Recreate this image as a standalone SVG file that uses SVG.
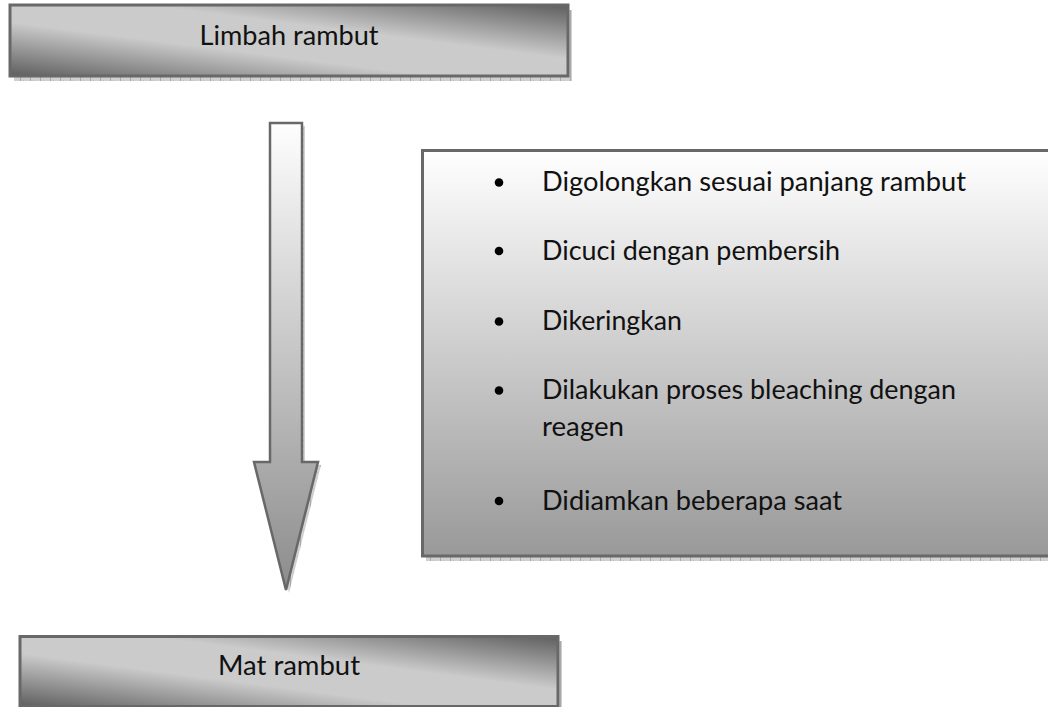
<svg xmlns="http://www.w3.org/2000/svg" width="1048" height="707" viewBox="0 0 1048 707">
  <defs>
    <style>
      .lbl { font-family: Lato, "Open Sans", "Liberation Sans", sans-serif; font-size: 26px; fill: #111; }
      .box { stroke: #686868; stroke-width: 3; }
      .shadow { fill: url(#shadowPat); }
      .bullet { fill: #000; }
    </style>
    <pattern id="shadowPat" width="10" height="6" patternUnits="userSpaceOnUse">
      <rect width="10" height="6" fill="#d0d0d0"/>
      <rect width="1" height="6" fill="#a8a8a8"/>
      <rect x="3" y="2" width="1" height="1" fill="#bdbdbd"/>
      <rect x="7" y="4" width="1" height="1" fill="#bdbdbd"/>
    </pattern>
    <linearGradient id="diagGrad" x1="1" y1="0" x2="0" y2="1">
      <stop offset="0" stop-color="#5e5e5e"/>
      <stop offset="0.38" stop-color="#cbcbcb"/>
      <stop offset="0.62" stop-color="#cbcbcb"/>
      <stop offset="1" stop-color="#5e5e5e"/>
    </linearGradient>
    <linearGradient id="vertGrad" x1="0" y1="0" x2="0" y2="1">
      <stop offset="0" stop-color="#ffffff"/>
      <stop offset="1" stop-color="#999999"/>
    </linearGradient>
    <linearGradient id="arrowGrad" x1="0" y1="0" x2="0" y2="1">
      <stop offset="0" stop-color="#fefefe"/>
      <stop offset="1" stop-color="#8c8c8c"/>
    </linearGradient>
  </defs>

  <rect width="1048" height="707" fill="#ffffff"/>

  <g id="node-limbah">
    <rect class="shadow" x="14" y="10" width="558" height="71"/>
    <rect class="box" x="10" y="5" width="558" height="71" fill="url(#diagGrad)"/>
    <text class="lbl" x="289" y="45" text-anchor="middle" textLength="179" lengthAdjust="spacingAndGlyphs">Limbah rambut</text>
  </g>

  <g id="connectors">
    <polygon class="shadow" points="273,126 305,126 305,465 321,465 289,593 257,465 273,465"/>
    <polygon points="270,123 302,123 302,462 318,462 286,590 254,462 270,462" fill="url(#arrowGrad)" stroke="#686868" stroke-width="2.5" stroke-linejoin="miter"/>
  </g>

  <g id="node-steps">
    <rect class="shadow" x="426" y="155" width="640" height="406"/>
    <rect class="box" x="422.5" y="150.5" width="640" height="405.5" fill="url(#vertGrad)"/>
    <circle class="bullet" cx="499" cy="182.5" r="4.3"/>
    <text class="lbl" x="542" y="191" textLength="424" lengthAdjust="spacingAndGlyphs">Digolongkan sesuai panjang rambut</text>
    <circle class="bullet" cx="499" cy="251" r="4.3"/>
    <text class="lbl" x="542" y="259.5" textLength="298" lengthAdjust="spacingAndGlyphs">Dicuci dengan pembersih</text>
    <circle class="bullet" cx="499" cy="321.5" r="4.3"/>
    <text class="lbl" x="542" y="330" textLength="140" lengthAdjust="spacingAndGlyphs">Dikeringkan</text>
    <circle class="bullet" cx="499" cy="390.5" r="4.3"/>
    <text class="lbl" x="542" y="399" textLength="414" lengthAdjust="spacingAndGlyphs">Dilakukan proses bleaching dengan</text>
    <text class="lbl" x="542" y="436" textLength="82" lengthAdjust="spacingAndGlyphs">reagen</text>
    <circle class="bullet" cx="499" cy="501" r="4.3"/>
    <text class="lbl" x="542" y="509.5" textLength="300" lengthAdjust="spacingAndGlyphs">Didiamkan beberapa saat</text>
  </g>

  <g id="node-mat">
    <rect class="shadow" x="24" y="641" width="538" height="70"/>
    <rect class="box" x="20" y="636.5" width="538" height="70" fill="url(#diagGrad)"/>
    <text class="lbl" x="289" y="675" text-anchor="middle" textLength="142" lengthAdjust="spacingAndGlyphs">Mat rambut</text>
  </g>
</svg>
